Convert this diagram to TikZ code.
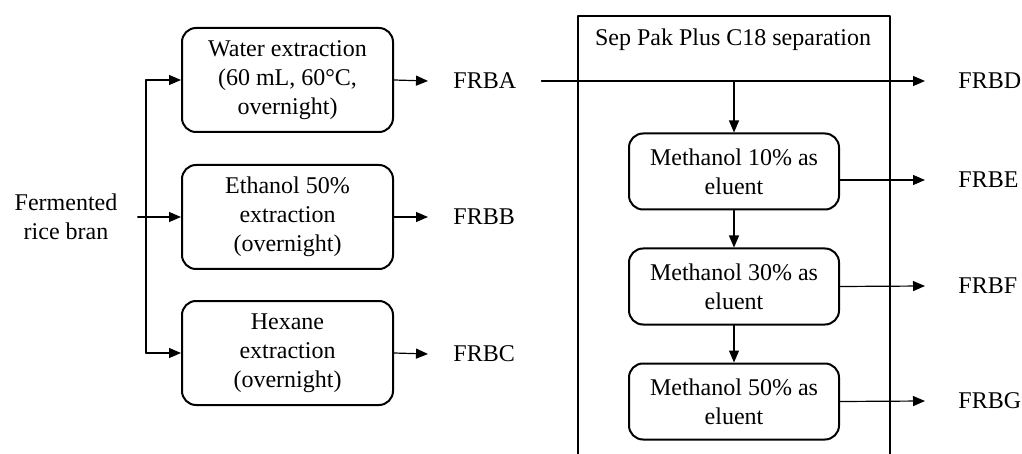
\documentclass[tikz,border=0pt]{standalone}
\usepackage{fontspec}
\setmainfont{Liberation Serif}
\usetikzlibrary{arrows.meta}
\begin{document}
\begin{tikzpicture}[
    x=0.5pt, y=-0.5pt,
    line cap=round,
    line join=round,
    every node/.style={font=\fontsize{12pt}{14.5pt}\selectfont, align=center},
    procbox/.style={draw=black, rounded corners=7pt, line width=1pt, inner sep=2pt},
    leftbox/.style={procbox, minimum width=105.5pt, minimum height=52pt},
    elbox/.style={procbox, minimum width=105pt, minimum height=38pt},
    fraclbl/.style={inner ysep=2pt, inner xsep=12.5pt},
    outlbl/.style={inner ysep=2pt, inner xsep=16.5pt},
    conn/.style={draw=black, line width=0.6pt, -{Triangle[length=6pt, width=5pt]}},
    plain/.style={draw=black, line width=0.6pt},
    frame/.style={draw=black, line width=1pt}
]
\clip (0,0) rectangle (1022,454);

\node[inner xsep=10pt] (src) at (66,217) {Fermented\\rice bran};
\coordinate (fork) at (146,217);

\node[leftbox] (wat) at (287.5,80)  {Water extraction\\(60 mL, 60°C,\\overnight)};
\node[leftbox] (eth) at (287.5,217) {Ethanol 50\%\\extraction\\(overnight)};
\node[leftbox] (hex) at (287.5,353) {Hexane\\extraction\\(overnight)};

\node[fraclbl, anchor=west] (frba) at (428,81)  {FRBA};
\node[fraclbl, anchor=west] (frbb) at (428,217) {FRBB};
\node[fraclbl, anchor=west] (frbc) at (428,354) {FRBC};

\draw[frame] (578,16) rectangle (890,470);
\node (title) at (733,40) {Sep Pak Plus C18 separation};

\node[elbox] (m10) at (734,171.5) {Methanol 10\% as\\eluent};
\node[elbox] (m30) at (734,286.5) {Methanol 30\% as\\eluent};
\node[elbox] (m50) at (734,401.5) {Methanol 50\% as\\eluent};

\node[outlbl, anchor=west] (frbd) at (925,81)  {FRBD};
\node[outlbl, anchor=west] (frbe) at (925,180) {FRBE};
\node[outlbl, anchor=west] (frbf) at (925,286) {FRBF};
\node[outlbl, anchor=west] (frbg) at (925,401) {FRBG};

\coordinate (split) at (m10 |- frba);

\draw[conn] (src.east) -- (eth.west);
\draw[plain] (wat.west -| fork) -- (hex.west -| fork);
\draw[conn] (fork) |- (wat.west);
\draw[conn] (fork) |- (hex.west);

\draw[conn] (wat.east) -- (frba.west);
\draw[conn] (eth.east) -- (frbb.west);
\draw[conn] (hex.east) -- (frbc.west);

\draw[conn] (frba.east) -- (frbd.west);
\draw[conn] (split) -- (m10.north);
\draw[conn] (m10.south) -- (m30.north);
\draw[conn] (m30.south) -- (m50.north);

\draw[conn] (m10.east |- frbe) -- (frbe.west);
\draw[conn] (m30.east) -- (frbf.west);
\draw[conn] (m50.east) -- (frbg.west);
\end{tikzpicture}
\end{document}
